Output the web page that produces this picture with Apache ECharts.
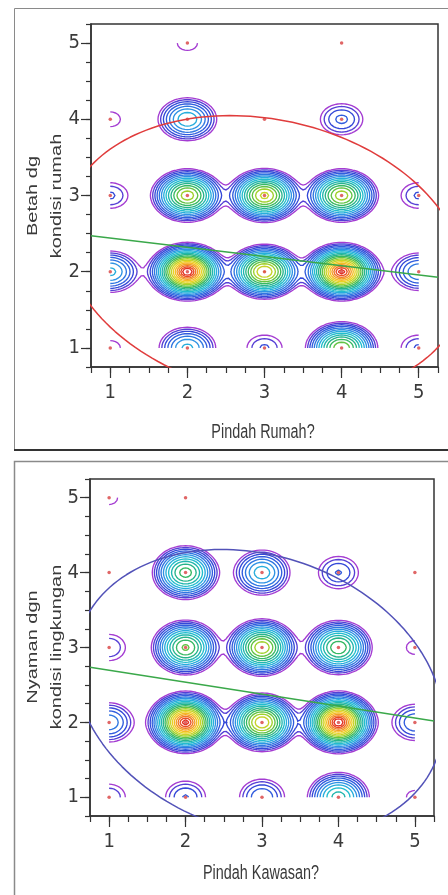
<!DOCTYPE html>
<html>
<head>
<meta charset="utf-8">
<script src="https://cdn.jsdelivr.net/npm/echarts@6/dist/echarts.min.js"></script>
<style>
  html, body { margin: 0; padding: 0; background: #fff; }
  #chart { width: 448px; height: 895px; }
</style>
</head>
<body>
<div id="chart"></div>
<script>
// answer codes on both axes
const xLevels = [1, 2, 3, 4, 5];
const yLevels = [1, 2, 3, 4, 5];
const tickValues = [1, 2, 3, 4, 5];

// counts per cell, rows are y = 1..5, columns are x = 1..5
const countsRumah = [
  [2, 8, 3, 21, 3],
  [8, 40, 27, 39, 6],
  [3, 23, 25, 23, 3],
  [2, 9, 1, 4, 0],
  [0, 2, 0, 1, 0]
];
const countsKawasan = [
  [3, 4, 5, 13, 2],
  [6, 41, 28, 42, 5],
  [3, 20, 25, 19, 2],
  [1, 18, 9, 4, 1],
  [2, 1, 0, 0, 0]
];

// bivariate normal stats for the density ellipse / fit line
const meanRumah = [3.0, 2.20];
const sdRumah = [1.065, 0.755];
const corrRumah = -0.17;
const meanKawasan = [2.96, 2.385];
const sdKawasan = [0.985, 0.786];
const corrKawasan = -0.2;

const N_GRID = 121;       // density grid over [1,5]
const N_LEVELS = 20;
const T_MAX = 0.88;       // highest contour, leaves a blank centre on the peak
const LEVEL_SPREAD = 3.2; // lowest level = max * exp(-LEVEL_SPREAD)
// colour ramp for the contour levels, [position, colour]
const stops = [
  [0.00, '#a43cd2'], [0.04, '#5a3ed4'], [0.09, '#3448d8'], [0.16, '#2f66e0'],
  [0.23, '#2f92e4'], [0.31, '#22bfd6'], [0.40, '#20b29a'], [0.48, '#3cba54'],
  [0.56, '#a6d22c'], [0.66, '#f4d224'], [0.76, '#f49226'], [0.86, '#e43424'],
  [1.00, '#d81c1c']
];

function hexRgb(h) {
  return [parseInt(h.slice(1, 3), 16), parseInt(h.slice(3, 5), 16), parseInt(h.slice(5, 7), 16)];
}
function colorAt(t) {
  let i = 0;
  while (i < stops.length - 2 && t > stops[i + 1][0]) i++;
  const f = (t - stops[i][0]) / (stops[i + 1][0] - stops[i][0]);
  const a = hexRgb(stops[i][1]), b = hexRgb(stops[i + 1][1]);
  const c = a.map((v, k) => Math.round(v + (b[k] - v) * Math.max(0, Math.min(1, f))));
  return 'rgb(' + c.join(',') + ')';
}

function densityGrid(counts, hx, hy) {
  const step = 4 / (N_GRID - 1);
  const vals = [];
  for (let j = 0; j < N_GRID; j++) {
    const y = 1 + j * step;
    const row = [];
    for (let i = 0; i < N_GRID; i++) {
      const x = 1 + i * step;
      let s = 0;
      for (let r = 0; r < 5; r++) {
        for (let c = 0; c < 5; c++) {
          const w = counts[r][c];
          if (!w) continue;
          const dx = (x - xLevels[c]) / hx, dy = (y - yLevels[r]) / hy;
          s += w * Math.exp(-0.5 * (dx * dx + dy * dy));
        }
      }
      row.push(s);
    }
    vals.push(row);
  }
  return vals;
}

// marching squares, segments chained into polylines
function contour(vals, L) {
  const step = 4 / (N_GRID - 1);
  const pts = {}, adj = {};
  function link(a, b) {
    (adj[a] = adj[a] || []).push(b);
    (adj[b] = adj[b] || []).push(a);
  }
  for (let j = 0; j < N_GRID - 1; j++) {
    for (let i = 0; i < N_GRID - 1; i++) {
      const v0 = vals[j][i], v1 = vals[j][i + 1], v2 = vals[j + 1][i + 1], v3 = vals[j + 1][i];
      const b0 = v0 > L, b1 = v1 > L, b2 = v2 > L, b3 = v3 > L;
      const e = [];
      if (b0 !== b1) {
        const id = 'h' + i + ',' + j;
        pts[id] = [1 + (i + (L - v0) / (v1 - v0)) * step, 1 + j * step];
        e.push(id);
      }
      if (b1 !== b2) {
        const id = 'v' + (i + 1) + ',' + j;
        pts[id] = [1 + (i + 1) * step, 1 + (j + (L - v1) / (v2 - v1)) * step];
        e.push(id);
      }
      if (b3 !== b2) {
        const id = 'h' + i + ',' + (j + 1);
        pts[id] = [1 + (i + (L - v3) / (v2 - v3)) * step, 1 + (j + 1) * step];
        e.push(id);
      }
      if (b0 !== b3) {
        const id = 'v' + i + ',' + j;
        pts[id] = [1 + i * step, 1 + (j + (L - v0) / (v3 - v0)) * step];
        e.push(id);
      }
      if (e.length === 2) link(e[0], e[1]);
      else if (e.length === 4) {
        const centerHigh = (v0 + v1 + v2 + v3) / 4 > L;
        if (b0 === centerHigh) { link(e[0], e[1]); link(e[2], e[3]); }
        else { link(e[0], e[3]); link(e[1], e[2]); }
      }
    }
  }
  const seen = {}, lines = [];
  function walk(start) {
    const line = [pts[start]];
    seen[start] = true;
    let cur = start;
    while (true) {
      const nxt = adj[cur].find(k => !seen[k]);
      if (nxt === undefined) {
        if (line.length > 2 && adj[cur].indexOf(start) >= 0) line.push(pts[start]);
        break;
      }
      seen[nxt] = true;
      line.push(pts[nxt]);
      cur = nxt;
    }
    if (line.length > 1) lines.push(line);
  }
  Object.keys(adj).forEach(k => { if (!seen[k] && adj[k].length === 1) walk(k); });
  Object.keys(adj).forEach(k => { if (!seen[k]) walk(k); });
  return lines;
}

function contourSeries(counts, hx, hy, axisIdx) {
  const vals = densityGrid(counts, hx, hy);
  let maxD = 0;
  vals.forEach(r => r.forEach(v => { if (v > maxD) maxD = v; }));
  const out = [];
  for (let k = 0; k < N_LEVELS; k++) {
    const t = T_MAX * k / (N_LEVELS - 1);
    const L = maxD * Math.exp(-LEVEL_SPREAD * (1 - t) * (1 - t));
    out.push({
      type: 'lines',
      coordinateSystem: 'cartesian2d',
      xAxisIndex: axisIdx,
      yAxisIndex: axisIdx,
      polyline: true,
      silent: true,
      z: 2,
      lineStyle: { color: colorAt(t), width: 1.35, opacity: 1 },
      data: contour(vals, L).map(c => ({ coords: c }))
    });
  }
  return out;
}

function ellipseData(mean, sd, r) {
  const c = Math.sqrt(-2 * Math.log(0.05));
  const pts = [];
  for (let d = 0; d <= 360; d += 2) {
    const t = d * Math.PI / 180;
    const u = Math.cos(t), v = Math.sin(t);
    pts.push([mean[0] + c * sd[0] * u, mean[1] + c * sd[1] * (r * u + Math.sqrt(1 - r * r) * v)]);
  }
  return pts;
}

function fitData(mean, sd, r) {
  const slope = r * sd[1] / sd[0];
  return [0.75, 5.25].map(x => [x, mean[1] + slope * (x - mean[0])]);
}

function dotData(counts) {
  const d = [];
  counts.forEach((row, r) => row.forEach((n, c) => { if (n > 0) d.push([xLevels[c], yLevels[r]]); }));
  return d;
}

const labelFont = "'Liberation Sans Narrow', 'Arial Narrow', 'DejaVu Sans Condensed', sans-serif";
const textColor = '#3a3a3a';

function majorX(grid) {
  return {
    type: 'value', gridIndex: grid, min: 0.75, max: 5.25, position: 'bottom',
    axisLine: { show: true, lineStyle: { color: '#333', width: 1.5 } },
    axisTick: { show: true, customValues: tickValues, length: 11, lineStyle: { color: '#333', width: 1.2 } },
    axisLabel: { customValues: tickValues, margin: 16, fontSize: 20, fontFamily: labelFont, color: textColor },
    splitLine: { show: false }
  };
}
function minorX(grid) {
  return {
    type: 'value', gridIndex: grid, min: 0.75, max: 5.25, interval: 0.25, position: 'bottom',
    axisLine: { show: false },
    axisTick: { show: true, length: 6, lineStyle: { color: '#333', width: 1.2 } },
    axisLabel: { show: false }, splitLine: { show: false }
  };
}
function majorY(grid) {
  return {
    type: 'value', gridIndex: grid, min: 0.75, max: 5.25, position: 'left',
    axisLine: { show: true, lineStyle: { color: '#333', width: 1.5 } },
    axisTick: { show: true, customValues: tickValues, length: 10, lineStyle: { color: '#333', width: 1.2 } },
    axisLabel: { customValues: tickValues, margin: 11, fontSize: 20, fontFamily: labelFont, color: textColor },
    splitLine: { show: false }
  };
}
function minorY(grid) {
  return {
    type: 'value', gridIndex: grid, min: 0.75, max: 5.25, interval: 0.25, position: 'left',
    axisLine: { show: false },
    axisTick: { show: true, length: 5, lineStyle: { color: '#333', width: 1.2 } },
    axisLabel: { show: false }, splitLine: { show: false }
  };
}

function panelSeries(counts, hx, hy, mean, sd, r, ringColor, axisIdx) {
  return contourSeries(counts, hx, hy, axisIdx).concat([
    {
      type: 'line', xAxisIndex: axisIdx, yAxisIndex: axisIdx, data: ellipseData(mean, sd, r),
      showSymbol: false, silent: true, z: 4, clip: true,
      lineStyle: { color: ringColor, width: 1.5 }
    },
    {
      type: 'line', xAxisIndex: axisIdx, yAxisIndex: axisIdx, data: fitData(mean, sd, r),
      showSymbol: false, silent: true, z: 4, clip: true,
      lineStyle: { color: '#3aa84a', width: 1.5 }
    },
    {
      type: 'scatter', xAxisIndex: axisIdx, yAxisIndex: axisIdx, data: dotData(counts),
      symbolSize: 3.5, silent: true, z: 5, itemStyle: { color: '#d84040' }
    }
  ]);
}

function title(text, x, y, vertical) {
  const el = {
    type: 'text', x: x, y: y, silent: true,
    style: { text: text, fill: textColor, font: "20px 'Liberation Sans', Arial, sans-serif", align: 'center', verticalAlign: 'middle' }
  };
  if (vertical) { el.rotation = Math.PI / 2; el.scaleY = 0.72; }
  else el.scaleX = 0.72;
  return el;
}

const chart = echarts.init(document.getElementById('chart'));
chart.setOption({
  backgroundColor: '#ffffff',
  animation: false,
  grid: [
    { left: 91, top: 24, width: 347, height: 343, show: true, borderColor: '#333', borderWidth: 1.5, backgroundColor: '#fff' },
    { left: 90, top: 479, width: 344, height: 337, show: true, borderColor: '#333', borderWidth: 1.5, backgroundColor: '#fff' }
  ],
  xAxis: [majorX(0), minorX(0), majorX(1), minorX(1)].map((a, i) => i < 2 ? a : Object.assign(a, { gridIndex: 1 })),
  yAxis: [majorY(0), minorY(0), majorY(1), minorY(1)].map((a, i) => i < 2 ? a : Object.assign(a, { gridIndex: 1 })),
  series: panelSeries(countsRumah, 0.205, 0.152, meanRumah, sdRumah, corrRumah, '#e03c3c', 0)
    .concat(panelSeries(countsKawasan, 0.2, 0.165, meanKawasan, sdKawasan, corrKawasan, '#5252b8', 2)),
  graphic: [
    { type: 'rect', silent: true, shape: { x: 14.5, y: 8.5, width: 460, height: 441 }, style: { fill: null, stroke: '#8a8a8a', lineWidth: 1 } },
    { type: 'line', silent: true, shape: { x1: 14, y1: 450, x2: 448, y2: 450 }, style: { stroke: '#333', lineWidth: 2 } },
    { type: 'rect', silent: true, shape: { x: 14.5, y: 461.5, width: 460, height: 460 }, style: { fill: null, stroke: '#8a8a8a', lineWidth: 1.5 } },
    title('Pindah Rumah?', 263, 432, false),
    title('Betah dg', 33, 196, true),
    title('kondisi rumah', 57, 196, true),
    title('Pindah Kawasan?', 261, 873, false),
    title('Nyaman dgn', 33, 647, true),
    title('kondisi lingkungan', 57, 647, true)
  ]
});
</script>
</body>
</html>
